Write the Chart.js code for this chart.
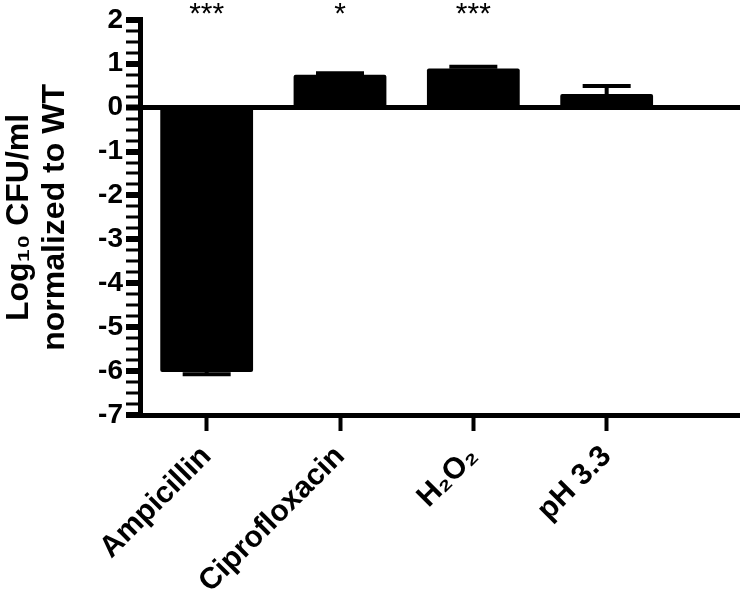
<!DOCTYPE html>
<html>
<head>
<meta charset="utf-8">
<script src="https://cdn.jsdelivr.net/npm/chart.js@4"></script>
<style>
  body { margin: 0; background: #fff; }
  #wrap { width: 740px; height: 599px; }
</style>
</head>
<body>
<div id="wrap"><canvas id="cfuChart" width="740" height="599"></canvas></div>
<script>
  const categories = ['Ampicillin', 'Ciprofloxacin', 'H₂O₂', 'pH 3.3'];
  const values = [-6.02, 0.75, 0.89, 0.31];
  const errors = [0.05, 0.03, 0.04, 0.18];
  const stars = ['***', '*', '***', ''];
  const yTicks = [2, 1, 0, -1, -2, -3, -4, -5, -6, -7];

  const FONT = "'Liberation Sans', Arial, sans-serif";

  // one-sided error bars + significance stars
  const extras = {
    id: 'extras',
    afterDatasetsDraw(chart) {
      const { ctx, scales: { x, y } } = chart;
      ctx.save();
      ctx.strokeStyle = '#000';
      ctx.lineWidth = 4;
      values.forEach((v, i) => {
        const px = x.getPixelForValue(i);
        const end = v + (v < 0 ? -errors[i] : errors[i]);
        const y0 = y.getPixelForValue(v), y1 = y.getPixelForValue(end);
        ctx.beginPath();
        ctx.moveTo(px, y0); ctx.lineTo(px, y1);
        ctx.moveTo(px - 24, y1); ctx.lineTo(px + 24, y1);
        ctx.stroke();
      });
      ctx.fillStyle = '#000';
      ctx.font = '30px ' + FONT;
      ctx.textAlign = 'center';
      ctx.textBaseline = 'top';
      stars.forEach((s, i) => {
        if (s) ctx.fillText(s, x.getPixelForValue(i), 0);
      });
      ctx.restore();
    }
  };

  const ctx = document.getElementById('cfuChart').getContext('2d');
  const cfuChart = new Chart(ctx, {
    type: 'bar',
    data: {
      datasets: [{
        data: values.map((v, i) => ({ x: i, y: v })),
        backgroundColor: '#000',
        borderWidth: 0,
        borderRadius: 2,
        borderSkipped: 'start',
        categoryPercentage: 0.8,
        barPercentage: 0.87
      }]
    },
    options: {
      responsive: false,
      animation: false,
      layout: { padding: { top: 15, right: 0, left: 0, bottom: 0 } },
      plugins: { legend: { display: false }, tooltip: { enabled: false } },
      scales: {
        x: {
          type: 'linear',
          offset: false,
          min: -0.5,
          max: 4,
          afterBuildTicks: s => { s.ticks = categories.map((c, i) => ({ value: i })); },
          afterFit: s => { s.height = 184; },
          border: { display: true, color: '#000', width: 5 },
          grid: { offset: false, drawOnChartArea: false, color: '#000', tickColor: '#000', tickWidth: 4, tickLength: 16 },
          ticks: {
            autoSkip: false,
            minRotation: 45,
            maxRotation: 45,
            padding: 8,
            color: '#000',
            font: { family: FONT, size: 30, weight: 'bold' },
            callback: v => categories[v] ?? ''
          }
        },
        y: {
          min: -7,
          max: 2,
          afterFit: s => { s.width = 140; },
          border: { display: true, color: '#000', width: 5 },
          grid: {
            color: c => (c.tick && c.tick.value === 0 ? '#000' : 'rgba(0,0,0,0)'),
            lineWidth: c => (c.tick && c.tick.value === 0 ? 5 : 0),
            tickColor: '#000',
            tickWidth: c => (c.tick && Number.isInteger(c.tick.value) ? 6 : 3),
            tickLength: 14
          },
          ticks: {
            stepSize: 0.25,
            maxTicksLimit: 100,
            autoSkip: false,
            padding: 3,
            color: '#000',
            font: { family: FONT, size: 28, weight: 'bold' },
            callback: v => (yTicks.includes(v) ? String(v) : '')
          },
          title: {
            display: true,
            text: ['Log₁₀ CFU/ml', 'normalized to WT'],
            color: '#000',
            font: { family: FONT, size: 32, weight: 'bold', lineHeight: 1.1 },
            padding: { top: 2, bottom: 0 }
          }
        }
      }
    },
    plugins: [extras]
  });
</script>
</body>
</html>
